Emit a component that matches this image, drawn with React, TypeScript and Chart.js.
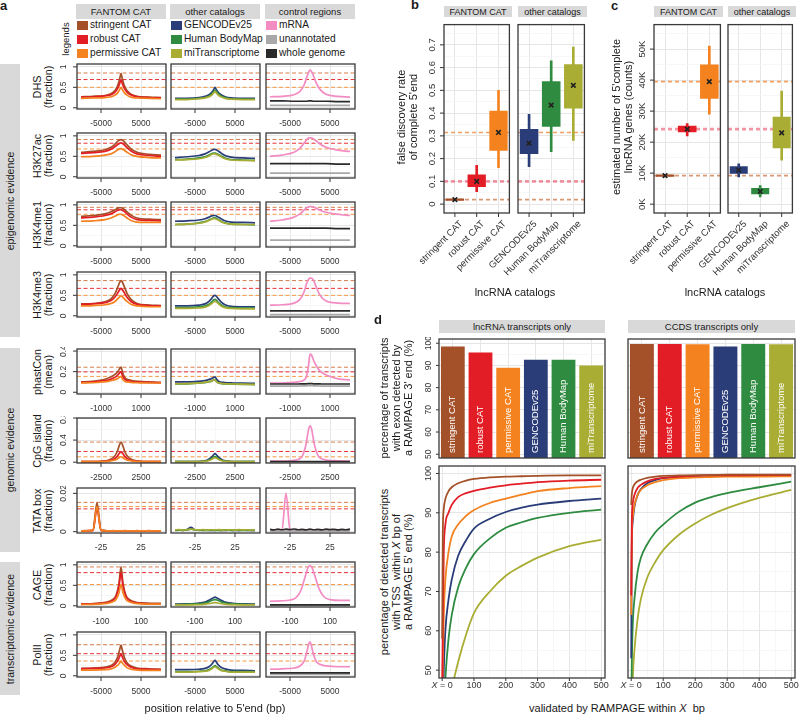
import React, { useEffect, useRef } from 'react';
import { Chart, registerables } from 'chart.js';

Chart.register(...registerables);
const FONT = '"Liberation Sans", Arial, Helvetica, sans-serif';
Chart.defaults.font.family = FONT;

// ---------------- names ----------------
const CAT_NAMES = ['stringent CAT', 'robust CAT', 'permissive CAT'];
const OTHER_NAMES = ['GENCODEv25', 'Human BodyMap', 'miTranscriptome'];
const CTRL_NAMES = ['mRNA', 'unannotated', 'whole genome'];
const CATALOGS = [...CAT_NAMES, ...OTHER_NAMES];
const FACET_TITLES = ['FANTOM CAT', 'other catalogs', 'control regions'];
const ROW_NAMES = ['DHS', 'H3K27ac', 'H3K4me1', 'H3K4me3', 'phastCon', 'CpG island', 'TATA box', 'CAGE', 'PolII'];
const ROW_UNITS = ['(fraction)', '(fraction)', '(fraction)', '(fraction)', '(mean)', '(fraction)', '(fraction)', '(fraction)', '(fraction)'];
const GROUP_NAMES = ['epigenomic evidence', 'genomic evidence', 'transcriptomic evidence'];

// ---------------- panel a: positions relative to 5'end ----------------
const POS_WIDE = [-10000, -7000, -4000, -2500, -1500, -800, -300, 0, 300, 800, 1500, 2500, 4000, 7000, 10000];
const POS_PHAST = [-2000, -1400, -900, -600, -400, -200, -80, 0, 80, 200, 400, 600, 900, 1400, 2000];
const POS_CPG = [-5000, -3500, -2200, -1500, -1000, -500, -200, 0, 200, 500, 1000, 1500, 2200, 3500, 5000];
const POS_TATA = [-50, -45, -40, -35, -30, -25, -20, -15, -10, -5, 0, 5, 10, 15, 20, 25, 30, 35, 40, 45, 50];
const POS_CAGE = [-200, -150, -100, -70, -45, -25, -10, 0, 10, 25, 45, 70, 100, 150, 200];

// axis ranges and ticks
const XR_WIDE = [-11000, 11250];
const XR_PHAST = [-2200, 2250];
const XR_CPG = [-5500, 5625];
const XR_TATA = [-55, 56.25];
const XR_CAGE = [-220, 225];
const XT_WIDE = [-5000, 5000];
const XT_PHAST = [-1000, 1000];
const XT_CPG = [-2500, 2500];
const XT_TATA = [-25, 25];
const XT_CAGE = [-100, 100];
const XM_ALL = [0];
const YR_FRAC = [-0.03, 1.07];
const YR_PHAST = [-0.017, 0.42];
const YR_CPG = [-0.015, 0.8];
const YR_TATA = [-0.0007, 0.0228];
const YT_FRAC = [0, 0.5, 1];
const YM_FRAC = [0.25, 0.75];
const YT_PHAST = [0, 0.2, 0.4];
const YM_PHAST = [0.1, 0.3];
const YT_CPG = [0, 0.4, 0.8];
const YM_CPG = [0.2, 0.6];
const YT_TATA = [0, 0.02];
const YM_TATA = [0.01];

// ---------------- panel a: profiles ----------------
const DHS_CAT = [
  [0.27, 0.28, 0.30, 0.34, 0.42, 0.55, 0.72, 0.84, 0.72, 0.55, 0.42, 0.33, 0.28, 0.26, 0.25],
  [0.26, 0.27, 0.29, 0.32, 0.38, 0.48, 0.60, 0.69, 0.60, 0.48, 0.38, 0.31, 0.27, 0.25, 0.24],
  [0.23, 0.24, 0.25, 0.27, 0.31, 0.37, 0.45, 0.50, 0.45, 0.37, 0.31, 0.26, 0.24, 0.23, 0.22],
];
const DHS_OTHER = [
  [0.23, 0.23, 0.25, 0.28, 0.32, 0.38, 0.45, 0.50, 0.45, 0.38, 0.32, 0.27, 0.24, 0.23, 0.23],
  [0.21, 0.21, 0.23, 0.25, 0.29, 0.34, 0.40, 0.43, 0.40, 0.34, 0.29, 0.25, 0.22, 0.21, 0.21],
  [0.20, 0.20, 0.22, 0.24, 0.27, 0.31, 0.37, 0.40, 0.37, 0.31, 0.27, 0.23, 0.21, 0.20, 0.20],
];
const DHS_CTRL = [
  [0.27, 0.28, 0.32, 0.40, 0.55, 0.75, 0.88, 0.92, 0.90, 0.80, 0.62, 0.45, 0.33, 0.28, 0.26],
  [0.06, 0.06, 0.06, 0.06, 0.06, 0.06, 0.06, 0.06, 0.06, 0.06, 0.06, 0.06, 0.06, 0.06, 0.06],
  [0.17, 0.17, 0.16, 0.16, 0.16, 0.16, 0.17, 0.17, 0.17, 0.16, 0.16, 0.16, 0.16, 0.15, 0.15],
];
const H3K27AC_CAT = [
  [0.60, 0.62, 0.66, 0.72, 0.80, 0.87, 0.90, 0.91, 0.90, 0.86, 0.78, 0.68, 0.60, 0.55, 0.53],
  [0.57, 0.59, 0.62, 0.67, 0.74, 0.79, 0.82, 0.83, 0.82, 0.78, 0.71, 0.63, 0.56, 0.52, 0.50],
  [0.49, 0.50, 0.53, 0.56, 0.61, 0.66, 0.68, 0.69, 0.68, 0.65, 0.60, 0.54, 0.50, 0.47, 0.46],
];
const H3K27AC_OTHER = [
  [0.47, 0.49, 0.52, 0.56, 0.61, 0.65, 0.67, 0.67, 0.66, 0.63, 0.58, 0.52, 0.48, 0.46, 0.45],
  [0.42, 0.43, 0.46, 0.49, 0.53, 0.57, 0.58, 0.58, 0.57, 0.55, 0.51, 0.46, 0.42, 0.41, 0.40],
  [0.41, 0.42, 0.44, 0.47, 0.51, 0.55, 0.56, 0.56, 0.55, 0.53, 0.49, 0.44, 0.41, 0.40, 0.39],
];
const H3K27AC_CTRL = [
  [0.50, 0.53, 0.60, 0.70, 0.82, 0.91, 0.95, 0.95, 0.95, 0.93, 0.88, 0.80, 0.72, 0.65, 0.62],
  [0.09, 0.09, 0.09, 0.09, 0.09, 0.09, 0.09, 0.09, 0.09, 0.09, 0.09, 0.09, 0.09, 0.09, 0.09],
  [0.32, 0.32, 0.32, 0.32, 0.32, 0.32, 0.32, 0.32, 0.32, 0.32, 0.32, 0.32, 0.32, 0.31, 0.31],
];
const H3K4ME1_CAT = [
  [0.72, 0.74, 0.78, 0.83, 0.88, 0.92, 0.93, 0.93, 0.92, 0.89, 0.83, 0.75, 0.68, 0.65, 0.64],
  [0.68, 0.70, 0.74, 0.78, 0.83, 0.87, 0.88, 0.88, 0.87, 0.84, 0.78, 0.70, 0.64, 0.62, 0.61],
  [0.60, 0.61, 0.64, 0.68, 0.72, 0.76, 0.77, 0.77, 0.76, 0.73, 0.68, 0.62, 0.58, 0.57, 0.57],
];
const H3K4ME1_OTHER = [
  [0.60, 0.61, 0.63, 0.66, 0.70, 0.73, 0.74, 0.74, 0.73, 0.70, 0.66, 0.61, 0.58, 0.57, 0.56],
  [0.52, 0.53, 0.56, 0.59, 0.63, 0.66, 0.68, 0.68, 0.67, 0.64, 0.60, 0.56, 0.53, 0.52, 0.51],
  [0.52, 0.53, 0.55, 0.58, 0.62, 0.65, 0.66, 0.66, 0.65, 0.63, 0.59, 0.55, 0.53, 0.52, 0.52],
];
const H3K4ME1_CTRL = [
  [0.60, 0.63, 0.70, 0.78, 0.87, 0.93, 0.95, 0.96, 0.96, 0.95, 0.92, 0.87, 0.82, 0.77, 0.74],
  [0.14, 0.14, 0.14, 0.14, 0.14, 0.14, 0.14, 0.14, 0.14, 0.14, 0.14, 0.14, 0.14, 0.14, 0.14],
  [0.43, 0.43, 0.43, 0.43, 0.43, 0.43, 0.43, 0.43, 0.43, 0.43, 0.43, 0.43, 0.43, 0.42, 0.42],
];
const H3K4ME3_CAT = [
  [0.29, 0.30, 0.34, 0.41, 0.54, 0.70, 0.82, 0.86, 0.83, 0.72, 0.55, 0.40, 0.30, 0.26, 0.25],
  [0.28, 0.29, 0.32, 0.37, 0.46, 0.56, 0.64, 0.67, 0.64, 0.57, 0.45, 0.35, 0.28, 0.25, 0.24],
  [0.24, 0.25, 0.27, 0.30, 0.35, 0.42, 0.47, 0.49, 0.47, 0.42, 0.35, 0.28, 0.24, 0.22, 0.22],
];
const H3K4ME3_OTHER = [
  [0.24, 0.24, 0.26, 0.29, 0.35, 0.43, 0.49, 0.50, 0.48, 0.42, 0.34, 0.27, 0.23, 0.22, 0.22],
  [0.20, 0.20, 0.22, 0.24, 0.28, 0.34, 0.39, 0.40, 0.38, 0.33, 0.27, 0.22, 0.20, 0.19, 0.19],
  [0.18, 0.18, 0.19, 0.21, 0.25, 0.30, 0.34, 0.35, 0.34, 0.30, 0.24, 0.20, 0.18, 0.17, 0.17],
];
const H3K4ME3_CTRL = [
  [0.26, 0.27, 0.31, 0.40, 0.58, 0.80, 0.90, 0.92, 0.92, 0.88, 0.72, 0.50, 0.36, 0.31, 0.30],
  [0.03, 0.03, 0.03, 0.03, 0.03, 0.03, 0.03, 0.03, 0.03, 0.03, 0.03, 0.03, 0.03, 0.03, 0.03],
  [0.12, 0.12, 0.12, 0.12, 0.12, 0.12, 0.12, 0.12, 0.12, 0.12, 0.12, 0.12, 0.12, 0.12, 0.12],
];
const PHAST_CAT = [
  [0.100, 0.105, 0.120, 0.140, 0.160, 0.190, 0.225, 0.245, 0.190, 0.140, 0.120, 0.110, 0.105, 0.100, 0.095],
  [0.095, 0.100, 0.110, 0.120, 0.135, 0.160, 0.185, 0.200, 0.160, 0.125, 0.110, 0.100, 0.098, 0.095, 0.092],
  [0.090, 0.092, 0.100, 0.108, 0.118, 0.130, 0.145, 0.155, 0.125, 0.105, 0.098, 0.094, 0.092, 0.090, 0.090],
];
const PHAST_OTHER = [
  [0.100, 0.100, 0.105, 0.110, 0.118, 0.130, 0.142, 0.150, 0.125, 0.105, 0.096, 0.092, 0.090, 0.088, 0.086],
  [0.080, 0.082, 0.088, 0.092, 0.098, 0.106, 0.118, 0.124, 0.102, 0.088, 0.082, 0.080, 0.078, 0.076, 0.075],
  [0.082, 0.084, 0.088, 0.094, 0.100, 0.108, 0.116, 0.120, 0.100, 0.090, 0.084, 0.082, 0.080, 0.078, 0.076],
];
const PHAST_CTRL = [
  [0.090, 0.090, 0.095, 0.100, 0.110, 0.140, 0.250, 0.370, 0.360, 0.300, 0.230, 0.190, 0.160, 0.130, 0.120],
  [0.060, 0.060, 0.060, 0.060, 0.061, 0.062, 0.063, 0.064, 0.063, 0.062, 0.061, 0.060, 0.060, 0.060, 0.060],
  [0.080, 0.080, 0.080, 0.080, 0.081, 0.082, 0.083, 0.084, 0.083, 0.082, 0.081, 0.080, 0.080, 0.080, 0.080],
];
const CPG_CAT = [
  [0.010, 0.010, 0.020, 0.040, 0.080, 0.180, 0.310, 0.365, 0.310, 0.180, 0.080, 0.040, 0.020, 0.010, 0.010],
  [0.010, 0.010, 0.015, 0.025, 0.045, 0.100, 0.160, 0.192, 0.160, 0.100, 0.045, 0.025, 0.015, 0.010, 0.010],
  [0.010, 0.010, 0.012, 0.018, 0.030, 0.055, 0.085, 0.098, 0.085, 0.055, 0.030, 0.018, 0.012, 0.010, 0.010],
];
const CPG_OTHER = [
  [0.010, 0.010, 0.012, 0.020, 0.035, 0.080, 0.130, 0.155, 0.130, 0.080, 0.035, 0.020, 0.012, 0.010, 0.010],
  [0.010, 0.010, 0.011, 0.016, 0.026, 0.055, 0.090, 0.100, 0.090, 0.055, 0.026, 0.016, 0.011, 0.010, 0.010],
  [0.010, 0.010, 0.010, 0.014, 0.022, 0.045, 0.070, 0.080, 0.070, 0.045, 0.022, 0.014, 0.010, 0.010, 0.010],
];
const CPG_CTRL = [
  [0.020, 0.020, 0.030, 0.050, 0.100, 0.320, 0.580, 0.660, 0.600, 0.350, 0.120, 0.060, 0.035, 0.025, 0.020],
  [0.004, 0.004, 0.004, 0.004, 0.004, 0.004, 0.004, 0.004, 0.004, 0.004, 0.004, 0.004, 0.004, 0.004, 0.004],
  [0.012, 0.012, 0.012, 0.012, 0.012, 0.012, 0.012, 0.012, 0.012, 0.012, 0.012, 0.012, 0.012, 0.012, 0.012],
];
const TATA_CAT = [
  [0.0004, 0.0005, 0.0005, 0.0008, 0.0152, 0.0008, 0.0005, 0.0004, 0.0005, 0.0004, 0.0004, 0.0005, 0.0004, 0.0004, 0.0005, 0.0004, 0.0004, 0.0005, 0.0004, 0.0004, 0.0004],
  [0.0004, 0.0004, 0.0005, 0.0007, 0.0119, 0.0007, 0.0005, 0.0004, 0.0004, 0.0004, 0.0004, 0.0004, 0.0004, 0.0004, 0.0004, 0.0004, 0.0004, 0.0004, 0.0004, 0.0004, 0.0004],
  [0.0004, 0.0004, 0.0005, 0.0007, 0.0131, 0.0007, 0.0005, 0.0004, 0.0004, 0.0004, 0.0004, 0.0004, 0.0004, 0.0004, 0.0004, 0.0004, 0.0004, 0.0004, 0.0004, 0.0004, 0.0004],
];
const TATA_OTHER = [
  [0.0008, 0.0009, 0.0007, 0.0011, 0.0022, 0.0010, 0.0008, 0.0007, 0.0008, 0.0006, 0.0007, 0.0008, 0.0006, 0.0007, 0.0008, 0.0006, 0.0007, 0.0009, 0.0007, 0.0006, 0.0007],
  [0.0006, 0.0008, 0.0007, 0.0009, 0.0013, 0.0009, 0.0007, 0.0008, 0.0006, 0.0009, 0.0007, 0.0006, 0.0008, 0.0010, 0.0006, 0.0008, 0.0007, 0.0006, 0.0008, 0.0007, 0.0006],
  [0.0009, 0.0011, 0.0008, 0.0010, 0.0014, 0.0010, 0.0009, 0.0011, 0.0008, 0.0010, 0.0009, 0.0011, 0.0008, 0.0009, 0.0010, 0.0008, 0.0011, 0.0009, 0.0010, 0.0008, 0.0009],
];
const TATA_CTRL = [
  [0.0003, 0.0003, 0.0004, 0.0009, 0.0200, 0.0010, 0.0004, 0.0003, 0.0003, 0.0003, 0.0003, 0.0003, 0.0003, 0.0003, 0.0003, 0.0003, 0.0003, 0.0003, 0.0003, 0.0003, 0.0003],
  [0.0003, 0.0003, 0.0003, 0.0003, 0.0003, 0.0003, 0.0003, 0.0003, 0.0003, 0.0003, 0.0003, 0.0003, 0.0003, 0.0003, 0.0003, 0.0003, 0.0003, 0.0003, 0.0003, 0.0003, 0.0003],
  [0.0012, 0.0009, 0.0013, 0.0010, 0.0013, 0.0011, 0.0014, 0.0010, 0.0012, 0.0009, 0.0013, 0.0010, 0.0012, 0.0009, 0.0013, 0.0011, 0.0012, 0.0009, 0.0012, 0.0010, 0.0013],
];
const CAGE_CAT = [
  [0.05, 0.05, 0.07, 0.09, 0.14, 0.25, 0.55, 0.95, 0.55, 0.25, 0.14, 0.09, 0.07, 0.06, 0.06],
  [0.04, 0.045, 0.06, 0.08, 0.12, 0.22, 0.48, 0.81, 0.48, 0.22, 0.12, 0.08, 0.06, 0.05, 0.05],
  [0.03, 0.035, 0.045, 0.06, 0.09, 0.15, 0.32, 0.52, 0.32, 0.15, 0.09, 0.06, 0.045, 0.04, 0.04],
];
const CAGE_OTHER = [
  [0.04, 0.045, 0.055, 0.07, 0.10, 0.15, 0.19, 0.21, 0.19, 0.15, 0.10, 0.07, 0.055, 0.045, 0.04],
  [0.03, 0.035, 0.045, 0.055, 0.075, 0.11, 0.14, 0.15, 0.14, 0.11, 0.075, 0.055, 0.045, 0.035, 0.03],
  [0.02, 0.02, 0.025, 0.03, 0.04, 0.055, 0.07, 0.075, 0.07, 0.055, 0.04, 0.03, 0.025, 0.02, 0.02],
];
const CAGE_CTRL = [
  [0.11, 0.12, 0.14, 0.20, 0.38, 0.70, 0.93, 0.98, 0.93, 0.72, 0.42, 0.22, 0.15, 0.13, 0.13],
  [0.01, 0.01, 0.01, 0.01, 0.01, 0.01, 0.01, 0.01, 0.01, 0.01, 0.01, 0.01, 0.01, 0.01, 0.01],
  [0.02, 0.02, 0.02, 0.02, 0.02, 0.02, 0.02, 0.02, 0.02, 0.02, 0.02, 0.02, 0.02, 0.02, 0.02],
];
const POLII_CAT = [
  [0.18, 0.19, 0.21, 0.25, 0.33, 0.47, 0.65, 0.75, 0.64, 0.46, 0.32, 0.24, 0.19, 0.17, 0.16],
  [0.17, 0.18, 0.19, 0.22, 0.28, 0.37, 0.48, 0.54, 0.47, 0.36, 0.27, 0.21, 0.17, 0.16, 0.15],
  [0.14, 0.14, 0.15, 0.17, 0.21, 0.26, 0.32, 0.36, 0.32, 0.26, 0.20, 0.16, 0.14, 0.13, 0.13],
];
const POLII_OTHER = [
  [0.15, 0.15, 0.16, 0.18, 0.22, 0.28, 0.35, 0.38, 0.34, 0.27, 0.21, 0.17, 0.14, 0.13, 0.12],
  [0.10, 0.10, 0.11, 0.12, 0.15, 0.19, 0.23, 0.25, 0.23, 0.19, 0.14, 0.12, 0.10, 0.10, 0.10],
  [0.09, 0.09, 0.10, 0.11, 0.13, 0.17, 0.21, 0.22, 0.21, 0.17, 0.13, 0.11, 0.09, 0.09, 0.09],
];
const POLII_CTRL = [
  [0.16, 0.17, 0.19, 0.24, 0.35, 0.58, 0.78, 0.83, 0.76, 0.55, 0.36, 0.28, 0.24, 0.22, 0.22],
  [0.04, 0.04, 0.04, 0.04, 0.04, 0.04, 0.04, 0.04, 0.04, 0.04, 0.04, 0.04, 0.04, 0.04, 0.04],
  [0.07, 0.07, 0.07, 0.07, 0.07, 0.07, 0.07, 0.07, 0.07, 0.07, 0.07, 0.07, 0.07, 0.07, 0.07],
];

// dashed reference levels (stringent, robust, permissive peaks)
const HL_DHS = [0.85, 0.69, 0.5];
const HL_H3K27AC = [0.91, 0.82, 0.68];
const HL_H3K4ME1 = [0.94, 0.88, 0.77];
const HL_H3K4ME3 = [0.86, 0.67, 0.5];
const HL_PHAST = [0.243, 0.198, 0.154];
const HL_CPG = [0.364, 0.194, 0.097];
const HL_TATA = [0.0153, 0.0119, 0.0131];
const HL_CAGE = [0.95, 0.81, 0.52];
const HL_POLII = [0.76, 0.54, 0.36];

// ---------------- panel b: false discovery rate ----------------
const FDR_LO = [0.015, 0.055, 0.16, 0.165, 0.23, 0.28];
const FDR_Q1 = [0.015, 0.075, 0.235, 0.22, 0.34, 0.42];
const FDR_MID = [0.02, 0.1, 0.315, 0.268, 0.435, 0.522];
const FDR_Q3 = [0.025, 0.13, 0.41, 0.33, 0.54, 0.615];
const FDR_HI = [0.025, 0.17, 0.5, 0.395, 0.63, 0.69];
const FDR_HLINES = [0.02, 0.1, 0.315];
const FDR_TICKS = [0, 0.1, 0.2, 0.3, 0.4, 0.5, 0.6, 0.7];
const FDR_MINOR = [0.05, 0.15, 0.25, 0.35, 0.45, 0.55, 0.65, 0.75];

// ---------------- panel c: estimated counts (thousands) ----------------
const CNT_LO = [8.8, 22.0, 29.0, 8.8, 2.3, 14.2];
const CNT_Q1 = [8.8, 23.2, 34.0, 9.8, 3.2, 18.0];
const CNT_MID = [9.2, 24.2, 39.5, 11.0, 4.1, 23.0];
const CNT_Q3 = [9.6, 25.3, 45.0, 12.2, 5.2, 28.2];
const CNT_HI = [9.6, 26.0, 51.0, 13.0, 6.0, 36.5];
const CNT_HLINES = [9.2, 24.2, 39.5];
const CNT_TICKS = [0, 10, 20, 30, 40, 50];
const CNT_MINOR = [5, 15, 25, 35, 45, 55];

// ---------------- panel d ----------------
const D3_LNC = [98.5, 95.8, 89.0, 92.5, 92.5, 90.0];
const D3_CCDS = [99.6, 99.6, 99.5, 98.5, 99.6, 99.5];
const D_YTICKS = [50, 60, 70, 80, 90, 100];
const D_YMINOR = [55, 65, 75, 85, 95];
const D_XTICKS = [0, 100, 200, 300, 400, 500];
const D_XLABELS = ['X = 0', '100', '200', '300', '400', '500'];
const D_XMINOR = [50, 150, 250, 350, 450];
const D_POS = [0, 2, 5, 10, 20, 30, 50, 75, 100, 150, 200, 250, 300, 400, 500];
const D5_LNC = [
  [58, 85, 91, 93.5, 95.5, 96.5, 97.5, 98.2, 98.6, 99.0, 99.2, 99.3, 99.4, 99.5, 99.5],
  [45, 62, 80, 87, 90, 92, 94, 95, 95.6, 96.4, 97.0, 97.4, 97.8, 98.2, 98.4],
  [40, 52, 64, 73, 80, 84, 87, 89.2, 90.7, 92.5, 93.6, 94.6, 95.5, 96.3, 96.8],
  [30, 40, 50, 60, 68, 73, 79, 83, 86, 88.5, 90.2, 91.3, 92.1, 93.0, 93.6],
  [25, 32, 40, 48, 58, 64, 71, 76, 79.5, 83.5, 86.2, 87.6, 88.7, 90.0, 90.8],
  [20, 24, 28, 33, 40, 45, 52, 59, 64.5, 70, 74, 76.5, 78.6, 81.5, 83.2],
];
const D5_CCDS = [
  [92, 94.8, 96.3, 97.2, 98.0, 98.4, 98.9, 99.2, 99.4, 99.5, 99.6, 99.6, 99.7, 99.7, 99.7],
  [69, 88, 92.5, 94.5, 96.3, 97.1, 98.0, 98.6, 98.9, 99.2, 99.4, 99.5, 99.5, 99.6, 99.6],
  [64, 84, 89, 92, 94.5, 95.8, 97.0, 97.8, 98.3, 98.8, 99.0, 99.1, 99.2, 99.2, 99.3],
  [53, 82, 88, 91.5, 94.5, 96.0, 97.5, 98.3, 98.8, 99.2, 99.4, 99.5, 99.5, 99.6, 99.6],
  [40, 52, 62, 68, 75, 78.5, 82, 85, 87, 90.3, 92.6, 94.0, 95.0, 96.5, 97.9],
  [30, 38, 48, 55, 63, 68, 73.5, 77.5, 80.5, 84.5, 87.3, 89.5, 91.2, 93.8, 95.8],
];

// ---------------- styles ----------------
const COLORS = ['#a4512a', '#e31d25', '#f3821f', '#2b3d78', '#2e8b40', '#a9ad33'];
const CTRL_COLORS = ['#f28cc3', '#a8a8a8', '#2a2a2a'];
const PROFILE_COLORS = [COLORS.slice(0, 3), COLORS.slice(3, 6), CTRL_COLORS];
const HL_A = ['rgba(212,118,66,0.95)', 'rgba(232,36,44,0.95)', 'rgba(246,148,56,0.95)'];
const HL_B = ['rgba(214,140,100,0.9)', 'rgba(236,80,105,0.6)', 'rgba(244,150,80,0.9)'];
const HL_BW = [1.6, 2.8, 1.6];
const GRID_MAJOR = '#e6e6e6';
const GRID_MINOR = '#f3f3f3';
const STRIP_BG = '#d9d9d9';
const INK = '#1a1a1a';

const ROWS: any[] = [
  { pos: POS_WIDE, sets: [DHS_CAT, DHS_OTHER, DHS_CTRL], hl: HL_DHS, xr: XR_WIDE, xt: XT_WIDE, yr: YR_FRAC, yt: YT_FRAC, ym: YM_FRAC },
  { pos: POS_WIDE, sets: [H3K27AC_CAT, H3K27AC_OTHER, H3K27AC_CTRL], hl: HL_H3K27AC, xr: XR_WIDE, xt: XT_WIDE, yr: YR_FRAC, yt: YT_FRAC, ym: YM_FRAC },
  { pos: POS_WIDE, sets: [H3K4ME1_CAT, H3K4ME1_OTHER, H3K4ME1_CTRL], hl: HL_H3K4ME1, xr: XR_WIDE, xt: XT_WIDE, yr: YR_FRAC, yt: YT_FRAC, ym: YM_FRAC },
  { pos: POS_WIDE, sets: [H3K4ME3_CAT, H3K4ME3_OTHER, H3K4ME3_CTRL], hl: HL_H3K4ME3, xr: XR_WIDE, xt: XT_WIDE, yr: YR_FRAC, yt: YT_FRAC, ym: YM_FRAC },
  { pos: POS_PHAST, sets: [PHAST_CAT, PHAST_OTHER, PHAST_CTRL], hl: HL_PHAST, xr: XR_PHAST, xt: XT_PHAST, yr: YR_PHAST, yt: YT_PHAST, ym: YM_PHAST },
  { pos: POS_CPG, sets: [CPG_CAT, CPG_OTHER, CPG_CTRL], hl: HL_CPG, xr: XR_CPG, xt: XT_CPG, yr: YR_CPG, yt: YT_CPG, ym: YM_CPG },
  { pos: POS_TATA, sets: [TATA_CAT, TATA_OTHER, TATA_CTRL], hl: HL_TATA, xr: XR_TATA, xt: XT_TATA, yr: YR_TATA, yt: YT_TATA, ym: YM_TATA },
  { pos: POS_CAGE, sets: [CAGE_CAT, CAGE_OTHER, CAGE_CTRL], hl: HL_CAGE, xr: XR_CAGE, xt: XT_CAGE, yr: YR_FRAC, yt: YT_FRAC, ym: YM_FRAC },
  { pos: POS_WIDE, sets: [POLII_CAT, POLII_OTHER, POLII_CTRL], hl: HL_POLII, xr: XR_WIDE, xt: XT_WIDE, yr: YR_FRAC, yt: YT_FRAC, ym: YM_FRAC },
];

// layout (pixels)
const COL_X = [77, 171, 266];
const COL_W = 89;
const ROW_Y = [64, 133, 202, 272, 349, 418, 488, 562, 632];
const ROW_H = 45;
const LEG_Y = [25, 39, 53];
const GROUP_SPANS = [[64, 337], [348, 552], [562, 695]];

// ---------------- chart helpers ----------------
function linAxis(axis: string, min: number, max: number, majors: number[], minors: number[], grid = true) {
  const all = [...majors, ...minors].filter((v) => v >= min && v <= max);
  return {
    type: 'linear',
    position: axis === 'x' ? 'bottom' : 'left',
    min,
    max,
    offset: false,
    beginAtZero: false,
    ticks: { display: false },
    border: { display: false },
    grid: {
      display: grid,
      offset: false,
      drawTicks: false,
      color: (c: any) => (c.tick && majors.includes(c.tick.value) ? GRID_MAJOR : GRID_MINOR),
      lineWidth: (c: any) => (c.tick && majors.includes(c.tick.value) ? 1 : 0.7),
    },
    afterBuildTicks: (s: any) => {
      s.ticks = all.map((v) => ({ value: v }));
    },
    afterFit: (s: any) => {
      if (axis === 'x') s.height = 0;
      else s.width = 0;
    },
  };
}

function catAxis() {
  return {
    type: 'category',
    offset: true,
    ticks: { display: false },
    border: { display: false },
    grid: { drawTicks: false, offset: false, color: GRID_MAJOR },
    afterFit: (s: any) => {
      s.height = 0;
    },
  };
}

function hiddenUnitAxis() {
  return {
    type: 'linear',
    position: 'bottom',
    min: 0,
    max: 1,
    offset: false,
    ticks: { display: false },
    border: { display: false },
    grid: { display: false, drawTicks: false, offset: false },
    afterFit: (s: any) => {
      s.height = 0;
    },
  };
}

function baseOptions(pad: any, scales: any) {
  return {
    responsive: false,
    animation: false,
    events: [],
    layout: { padding: { left: pad.l, top: pad.t, right: pad.r, bottom: pad.b } },
    plugins: { legend: { display: false }, tooltip: { enabled: false }, title: { display: false } },
    scales,
  };
}

function framePlugin(o: any) {
  return {
    id: 'rframe',
    afterDatasetsDraw(chart: any) {
      const { ctx, chartArea: a } = chart;
      const xs = chart.scales.x;
      const ys = chart.scales.y;
      const tl = o.tl ?? 4;
      ctx.save();
      ctx.lineWidth = 1;
      ctx.strokeStyle = '#333';
      ctx.fillStyle = '#333';
      const nf = `${o.fs}px ${FONT}`;
      ctx.font = nf;
      (o.xt || []).forEach((t: any) => {
        const px = xs.getPixelForValue(t.v);
        ctx.beginPath();
        ctx.moveTo(px, a.bottom);
        ctx.lineTo(px, a.bottom + tl);
        ctx.stroke();
        if (o.xRot) {
          ctx.save();
          ctx.translate(px + 3, a.bottom + tl + 2);
          ctx.rotate(-Math.PI / 4);
          ctx.textAlign = 'right';
          ctx.textBaseline = 'top';
          ctx.fillText(t.t, 0, 0);
          ctx.restore();
        } else if (t.t.startsWith('X =')) {
          const itf = `italic ${o.fs}px ${FONT}`;
          ctx.font = itf;
          const w1 = ctx.measureText('X').width;
          ctx.font = nf;
          const rest = t.t.slice(1);
          const w2 = ctx.measureText(rest).width;
          const sx = px - (w1 + w2) / 2;
          ctx.textAlign = 'left';
          ctx.textBaseline = 'alphabetic';
          ctx.font = itf;
          ctx.fillText('X', sx, a.bottom + o.xb);
          ctx.font = nf;
          ctx.fillText(rest, sx + w1, a.bottom + o.xb);
        } else {
          ctx.textAlign = 'center';
          ctx.textBaseline = 'alphabetic';
          ctx.fillText(t.t, px, a.bottom + o.xb);
        }
      });
      (o.yt || []).forEach((t: any) => {
        const py = ys.getPixelForValue(t.v);
        ctx.beginPath();
        ctx.moveTo(a.left - tl, py);
        ctx.lineTo(a.left, py);
        ctx.stroke();
        ctx.save();
        ctx.translate(a.left - o.yb, py);
        ctx.rotate(-Math.PI / 2);
        ctx.textAlign = 'center';
        ctx.textBaseline = 'alphabetic';
        ctx.fillText(t.t, 0, 0);
        ctx.restore();
      });
      if (o.barLabels) {
        const meta = chart.getDatasetMeta(0);
        ctx.fillStyle = '#ffffff';
        ctx.font = `${o.bfs}px ${FONT}`;
        meta.data.forEach((bar: any, i: number) => {
          ctx.save();
          ctx.translate(bar.x, a.bottom - 5);
          ctx.rotate(-Math.PI / 2);
          ctx.textAlign = 'left';
          ctx.textBaseline = 'middle';
          ctx.fillText(o.barLabels[i], 0, 0);
          ctx.restore();
        });
      }
      ctx.lineWidth = 1.3;
      ctx.strokeStyle = '#3a3a3a';
      ctx.strokeRect(a.left, a.top, a.right - a.left, a.bottom - a.top);
      ctx.restore();
    },
  };
}

function makeProfile(r: number, c: number) {
  return (pad: any) => {
    const row = ROWS[r];
    const datasets: any[] = [];
    row.hl.forEach((v: number, i: number) =>
      datasets.push({
        data: [{ x: row.xr[0], y: v }, { x: row.xr[1], y: v }],
        borderColor: HL_A[i],
        borderWidth: 1,
        borderDash: [4, 2.5],
        pointRadius: 0,
        order: 10 + i,
      })
    );
    row.sets[c].forEach((vals: number[], i: number) =>
      datasets.push({
        data: vals.map((v, k) => ({ x: row.pos[k], y: v })),
        borderColor: PROFILE_COLORS[c][i],
        borderWidth: 1.7,
        pointRadius: 0,
        cubicInterpolationMode: 'monotone',
        order: 3 - i,
      })
    );
    return {
      type: 'line',
      data: { datasets },
      options: baseOptions(pad, {
        x: linAxis('x', row.xr[0], row.xr[1], row.xt, XM_ALL),
        y: linAxis('y', row.yr[0], row.yr[1], row.yt, row.ym),
      }),
      plugins: [
        framePlugin({
          fs: 8.5,
          tl: 4,
          xb: 17,
          yb: 11,
          xt: row.xt.map((v: number) => ({ v, t: String(v) })),
          yt: c === 0 ? row.yt.map((v: number) => ({ v, t: String(v) })) : [],
        }),
      ],
    };
  };
}

function makeBox(start: number, lo: number[], q1: number[], mid: number[], q3: number[], hi: number[], yr: number[], yt: number[], ym: number[], hls: number[], ylab: boolean, fmt: (v: number) => string) {
  return (pad: any) => {
    const idx = [start, start + 1, start + 2];
    const cats = idx.map((i) => CATALOGS[i]);
    const cols = idx.map((i) => COLORS[i]);
    const datasets: any[] = [
      ...hls.map((v, i) => ({
        type: 'line',
        xAxisID: 'x2',
        data: [{ x: 0, y: v }, { x: 1, y: v }],
        borderColor: HL_B[i],
        borderWidth: HL_BW[i],
        borderDash: [4, 3],
        pointRadius: 0,
        order: 10 + i,
      })),
      { type: 'bar', data: idx.map((i) => [lo[i], hi[i]]), backgroundColor: cols, barThickness: 2, grouped: false, order: 5 },
      { type: 'bar', data: idx.map((i) => [q1[i], q3[i]]), backgroundColor: cols, barPercentage: 0.84, categoryPercentage: 1, grouped: false, order: 4 },
      { type: 'line', data: idx.map((i) => mid[i]), showLine: false, pointStyle: 'crossRot', pointRadius: 3.2, borderColor: '#222', backgroundColor: '#222', borderWidth: 1.6, order: 1 },
    ];
    return {
      type: 'bar',
      data: { labels: cats, datasets },
      options: baseOptions(pad, {
        x: catAxis(),
        x2: hiddenUnitAxis(),
        y: linAxis('y', yr[0], yr[1], yt, ym),
      }),
      plugins: [
        framePlugin({
          fs: 9.5,
          tl: 4,
          yb: 9,
          xRot: true,
          xt: cats.map((t, i) => ({ v: i, t })),
          yt: ylab ? yt.map((v) => ({ v, t: fmt(v) })) : [],
        }),
      ],
    };
  };
}

function makeBars(vals: number[], ylab: boolean) {
  return (pad: any) => ({
    type: 'bar',
    data: {
      labels: CATALOGS,
      datasets: [{ data: vals, backgroundColor: COLORS, barPercentage: 0.86, categoryPercentage: 1 }],
    },
    options: baseOptions(pad, {
      x: catAxis(),
      y: linAxis('y', 48.3, 101.9, D_YTICKS, D_YMINOR),
    }),
    plugins: [
      framePlugin({
        fs: 8.5,
        bfs: 9.5,
        tl: 3,
        yb: 8,
        yt: ylab ? D_YTICKS.map((v) => ({ v, t: String(v) })) : [],
        barLabels: CATALOGS,
      }),
    ],
  });
}

function makeCurves(sets: number[][], ylab: boolean) {
  return (pad: any) => ({
    type: 'line',
    data: {
      datasets: sets.map((vals, i) => ({
        data: vals.map((v, k) => ({ x: D_POS[k], y: v })),
        borderColor: COLORS[i],
        borderWidth: 1.8,
        pointRadius: 0,
        cubicInterpolationMode: 'monotone',
        order: i,
      })),
    },
    options: baseOptions(pad, {
      x: linAxis('x', -10, 512, D_XTICKS, D_XMINOR),
      y: linAxis('y', 48, 101.9, D_YTICKS, D_YMINOR),
    }),
    plugins: [
      framePlugin({
        fs: 9,
        tl: 3,
        xb: 10,
        yb: 8,
        xt: D_XTICKS.map((v, i) => ({ v, t: D_XLABELS[i] })),
        yt: ylab ? D_YTICKS.map((v) => ({ v, t: String(v) })) : [],
      }),
    ],
  });
}

// ---------------- React components ----------------
function ChartBox({ x, y, w, h, pad, make }: any) {
  const ref = useRef<HTMLCanvasElement | null>(null);
  useEffect(() => {
    if (!ref.current) return;
    const chart = new Chart(ref.current, make(pad) as any);
    return () => chart.destroy();
  }, []);
  const W = w + pad.l + pad.r;
  const H = h + pad.t + pad.b;
  return (
    <canvas
      ref={ref}
      width={W}
      height={H}
      style={{ position: 'absolute', left: x - pad.l, top: y - pad.t, width: W, height: H, display: 'block' }}
    />
  );
}

function Txt({ x, y, size = 10, rot = 0, bold = false, anchor = 'center', lh = 1.15, color = INK, children }: any) {
  const tx = anchor === 'left' ? '0' : '-50%';
  return (
    <div
      style={{
        position: 'absolute',
        left: x,
        top: y,
        transform: `translate(${tx},-50%) rotate(${rot}deg)`,
        fontFamily: FONT,
        fontSize: size,
        fontWeight: bold ? 700 : 400,
        lineHeight: lh,
        color,
        whiteSpace: 'nowrap',
        textAlign: 'center',
      }}
    >
      {children}
    </div>
  );
}

function Strip({ x, y, w, h, size, children }: any) {
  return (
    <div
      style={{
        position: 'absolute',
        left: x,
        top: y,
        width: w,
        height: h,
        background: STRIP_BG,
        display: 'flex',
        alignItems: 'center',
        justifyContent: 'center',
        fontFamily: FONT,
        fontSize: size,
        color: INK,
        whiteSpace: 'nowrap',
      }}
    >
      {children}
    </div>
  );
}

export default function App() {
  const pa = { l: 24, t: 2, r: 3, b: 20 };
  const profileCharts: any[] = [];
  ROWS.forEach((_, r) =>
    [0, 1, 2].forEach((c) =>
      profileCharts.push(
        <ChartBox key={`a${r}-${c}`} x={COL_X[c]} y={ROW_Y[r]} w={COL_W} h={ROW_H} pad={pa} make={makeProfile(r, c)} />
      )
    )
  );
  const legendNames = [CAT_NAMES, OTHER_NAMES, CTRL_NAMES];
  const fmtK = (v: number) => `${v}K`;
  const fmtN = (v: number) => String(v);
  const pBox = { l: 52, t: 2, r: 3, b: 72 };
  return (
    <div style={{ position: 'absolute', left: 0, top: 0, width: 800, height: 714, background: '#fff', overflow: 'hidden', fontFamily: FONT }}>
      {/* ---------- panel a ---------- */}
      <Txt x={0} y={6} size={13} bold anchor="left">a</Txt>
      {FACET_TITLES.map((t, c) => (
        <Strip key={t} x={COL_X[c] - 1} y={4} w={COL_W + 1} h={15} size={9.5}>{t}</Strip>
      ))}
      <Txt x={66} y={39} size={9.5} rot={-90}>legends</Txt>
      {legendNames.map((names, c) =>
        names.map((n, i) => (
          <React.Fragment key={n}>
            <div style={{ position: 'absolute', left: COL_X[c], top: LEG_Y[i] - 4.5, width: 11, height: 9, background: PROFILE_COLORS[c][i] }} />
            <Txt x={COL_X[c] + 13} y={LEG_Y[i]} size={10.2} anchor="left">{n}</Txt>
          </React.Fragment>
        ))
      )}
      {GROUP_SPANS.map((s, g) => (
        <React.Fragment key={g}>
          <div style={{ position: 'absolute', left: 0, top: s[0], width: 20, height: s[1] - s[0], background: STRIP_BG }} />
          <Txt x={10} y={(s[0] + s[1]) / 2} size={10.5} rot={-90}>{GROUP_NAMES[g]}</Txt>
        </React.Fragment>
      ))}
      {ROW_NAMES.map((n, r) => (
        <Txt key={n} x={43} y={ROW_Y[r] + ROW_H / 2} size={10.8} rot={-90} lh={1.05}>
          {n}
          <br />
          {ROW_UNITS[r]}
        </Txt>
      ))}
      {profileCharts}
      <Txt x={215} y={708} size={11}>position relative to 5'end (bp)</Txt>

      {/* ---------- panel b ---------- */}
      <Txt x={411} y={5} size={13} bold anchor="left">b</Txt>
      <Strip x={444} y={6} w={68} h={11} size={9}>FANTOM CAT</Strip>
      <Strip x={518} y={6} w={69} h={11} size={9}>other catalogs</Strip>
      <Txt x={407} y={117} size={11} rot={-90} lh={1.1}>
        false discovery rate
        <br />
        of complete 5'end
      </Txt>
      <ChartBox x={444} y={21} w={68} h={192} pad={pBox} make={makeBox(0, FDR_LO, FDR_Q1, FDR_MID, FDR_Q3, FDR_HI, [-0.039, 0.789], FDR_TICKS, FDR_MINOR, FDR_HLINES, true, fmtN)} />
      <ChartBox x={518} y={21} w={69} h={192} pad={pBox} make={makeBox(3, FDR_LO, FDR_Q1, FDR_MID, FDR_Q3, FDR_HI, [-0.039, 0.789], FDR_TICKS, FDR_MINOR, FDR_HLINES, false, fmtN)} />
      <Txt x={515} y={292} size={11}>lncRNA catalogs</Txt>

      {/* ---------- panel c ---------- */}
      <Txt x={611} y={6} size={13} bold anchor="left">c</Txt>
      <Strip x={654} y={6} w={69} h={11} size={9}>FANTOM CAT</Strip>
      <Strip x={728} y={6} w={68} h={11} size={9}>other catalogs</Strip>
      <Txt x={622} y={117} size={11} rot={-90} lh={1.1}>
        estimated number of 5'complete
        <br />
        lncRNA genes (counts)
      </Txt>
      <ChartBox x={654} y={21} w={69} h={192} pad={pBox} make={makeBox(0, CNT_LO, CNT_Q1, CNT_MID, CNT_Q3, CNT_HI, [-2.85, 57.9], CNT_TICKS, CNT_MINOR, CNT_HLINES, true, fmtK)} />
      <ChartBox x={728} y={21} w={68} h={192} pad={{ l: 52, t: 2, r: 2, b: 72 }} make={makeBox(3, CNT_LO, CNT_Q1, CNT_MID, CNT_Q3, CNT_HI, [-2.85, 57.9], CNT_TICKS, CNT_MINOR, CNT_HLINES, false, fmtK)} />
      <Txt x={725} y={292} size={11}>lncRNA catalogs</Txt>

      {/* ---------- panel d ---------- */}
      <Txt x={374} y={320} size={13} bold anchor="left">d</Txt>
      <Strip x={439} y={320} w={166} h={13} size={9.5}>lncRNA transcripts only</Strip>
      <Strip x={628} y={320} w={167} h={13} size={9.5}>CCDS transcripts only</Strip>
      <Txt x={396} y={398} size={11} rot={-90} lh={1.1}>
        percentage of transcripts
        <br />
        with exon detected by
        <br />
        a RAMPAGE 3' end (%)
      </Txt>
      <Txt x={396} y={572} size={11} rot={-90} lh={1.1}>
        percentage of detected transcripts
        <br />
        with TSS&nbsp; within <i>X</i> bp of
        <br />
        a RAMPAGE 5' end (%)
      </Txt>
      <ChartBox x={439} y={339} w={166} h={119} pad={{ l: 20, t: 2, r: 2, b: 2 }} make={makeBars(D3_LNC, true)} />
      <ChartBox x={628} y={339} w={167} h={119} pad={{ l: 4, t: 2, r: 2, b: 2 }} make={makeBars(D3_CCDS, false)} />
      <ChartBox x={439} y={466} w={166} h={212} pad={{ l: 20, t: 2, r: 8, b: 14 }} make={makeCurves(D5_LNC, true)} />
      <ChartBox x={628} y={466} w={167} h={212} pad={{ l: 14, t: 2, r: 5, b: 14 }} make={makeCurves(D5_CCDS, false)} />
      <Txt x={617} y={708} size={11}>
        validated by RAMPAGE within <i>X</i>&nbsp; bp
      </Txt>
    </div>
  );
}
